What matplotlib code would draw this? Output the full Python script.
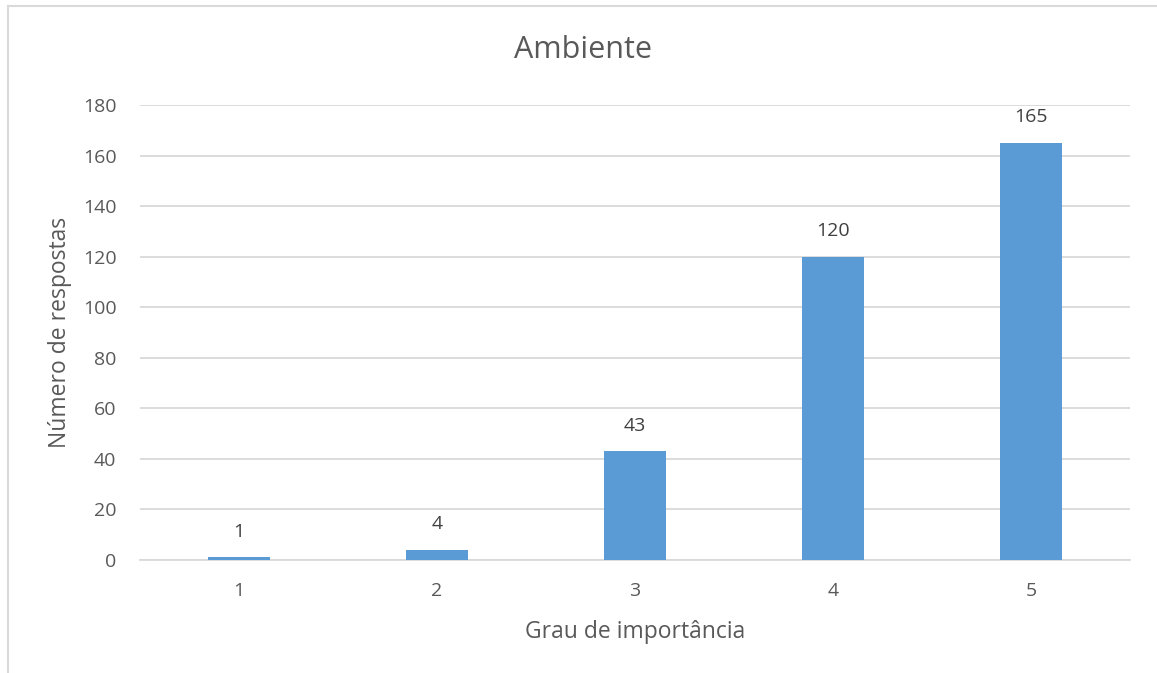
import matplotlib.pyplot as plt
from matplotlib.lines import Line2D

categories = ["1", "2", "3", "4", "5"]
responses = [1, 4, 43, 120, 165]
y_ticks = [0, 20, 40, 60, 80, 100, 120, 140, 160, 180]

plt.rcParams["font.family"] = ["Open Sans", "DejaVu Sans"]

TEXT = "#595959"
LABEL = "#404040"
GRID = "#d9d9d9"
BAR = "#5b9bd5"

W, H = 1157, 673
fig = plt.figure(figsize=(W / 100, H / 100), dpi=100)
ax = fig.add_axes([140 / W, 0.168, 990 / W, 0.676])

x = list(range(len(categories)))
bars = ax.bar(x, responses, width=0.31, color=BAR, zorder=3)

for rect, val in zip(bars, responses):
    ax.annotate(str(val), (rect.get_x() + rect.get_width() / 2, val),
                xytext=(0, 12), textcoords="offset points",
                ha="center", va="bottom", fontsize=14, color=LABEL)

ax.set_xlim(-0.5, len(categories) - 0.5)
ax.set_ylim(0, 180)
ax.set_yticks(y_ticks)
ax.set_xticks(x)
ax.set_xticklabels(categories)
ax.grid(axis="y", color=GRID, linewidth=1.3, zorder=0)
ax.tick_params(axis="both", length=0, labelsize=14, colors=TEXT)
ax.tick_params(axis="y", pad=17)
ax.tick_params(axis="x", pad=16)
for side in ("top", "right", "left"):
    ax.spines[side].set_visible(False)
ax.spines["bottom"].set_color(GRID)
ax.spines["bottom"].set_linewidth(1.3)

fig.text(583 / W, 1 - 50 / H, "Ambiente", fontsize=22, color=TEXT,
         ha="center", va="center")
ax.set_xlabel("Grau de importância", fontsize=16.5, color=TEXT, labelpad=14)
ax.set_ylabel("Número de respostas", fontsize=16.5, color=TEXT, labelpad=8)

# chart frame: only the top and left edges fall inside the image
frame = dict(transform=fig.transFigure, color=GRID, linewidth=1.5)
fig.lines.append(Line2D([8 / W, 1], [1 - 6 / H, 1 - 6 / H], **frame))
fig.lines.append(Line2D([8 / W, 8 / W], [0, 1 - 6 / H], **frame))

fig.savefig("out.png", dpi=100)
